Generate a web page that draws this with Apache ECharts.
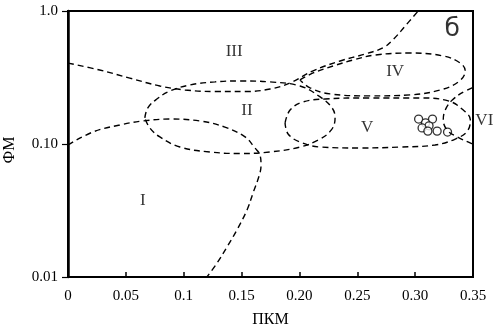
<!DOCTYPE html>
<html>
<head>
<meta charset="utf-8">
<script src="https://cdn.jsdelivr.net/npm/echarts@6/dist/echarts.min.js"></script>
<style>html,body{margin:0;padding:0;background:#fff}#c{width:499px;height:331px}</style>
</head>
<body>
<div id="c"></div>
<script>
// ---- data (x = ПКМ, y = ФМ) ----
var xTickLabels = ["0", "0.05", "0.1", "0.15", "0.20", "0.25", "0.30", "0.35"];
var yTickLabels = {"-2": "0.01", "-1": "0.10", "0": "1.0"};

var curveIII = [[0,0.406],[0.0274,0.360],[0.0534,0.313],[0.0794,0.273],[0.1010,0.255],[0.1270,0.248],[0.1530,0.248],[0.1746,0.259],[0.1919,0.288],[0.2118,0.355],[0.2352,0.421],[0.2568,0.475],[0.2724,0.530],[0.2810,0.610],[0.2914,0.771],[0.3026,1.0]];
var curveI = [[0,0.0983],[0.0214,0.123],[0.0447,0.139],[0.0647,0.149],[0.0880,0.154],[0.1140,0.149],[0.1356,0.134],[0.1530,0.113],[0.1616,0.0933],[0.1659,0.0827],[0.1668,0.0700],[0.1659,0.0605],[0.1599,0.0428],[0.1547,0.0319],[0.1460,0.0226],[0.1374,0.0168],[0.1287,0.0127],[0.1200,0.0100]];
var ellipseII = [[0.0664,0.157],[0.0690,0.187],[0.0768,0.218],[0.0880,0.250],[0.1053,0.278],[0.1270,0.293],[0.1486,0.298],[0.1746,0.293],[0.2005,0.273],[0.2179,0.226],[0.2282,0.187],[0.2308,0.157],[0.2274,0.127],[0.2161,0.107],[0.2005,0.0949],[0.1746,0.0871],[0.1486,0.0848],[0.1226,0.0871],[0.0967,0.0949],[0.0794,0.113],[0.0707,0.132],[0.0664,0.157]];
var ellipseIV = [[0.2005,0.303],[0.2118,0.342],[0.2291,0.386],[0.2464,0.428],[0.2655,0.467],[0.2957,0.483],[0.3243,0.459],[0.3390,0.406],[0.3433,0.354],[0.3373,0.293],[0.3217,0.255],[0.2957,0.234],[0.2611,0.230],[0.2265,0.238],[0.2092,0.264],[0.2005,0.303]];
var ellipseV = [[0.1876,0.144],[0.1919,0.180],[0.2031,0.207],[0.2222,0.218],[0.2611,0.222],[0.3044,0.222],[0.3286,0.211],[0.3416,0.180],[0.3477,0.152],[0.3451,0.125],[0.3347,0.109],[0.3172,0.0983],[0.2871,0.0949],[0.2525,0.0933],[0.2179,0.0949],[0.2005,0.1035],[0.1902,0.119],[0.1876,0.144]];
var ellipseVI = [[0.382,0.336],[0.3728,0.313],[0.3581,0.283],[0.3433,0.250],[0.3321,0.214],[0.3260,0.180],[0.3243,0.152],[0.3278,0.127],[0.3364,0.113],[0.3520,0.0983],[0.3676,0.0871],[0.382,0.0785]];
var samples = [[0.303,0.154],[0.315,0.154],[0.309,0.144],[0.312,0.137],[0.306,0.132],[0.311,0.125],[0.319,0.125],[0.328,0.123]];
var regionNames = ["III", "II", "IV", "V", "I", "VI"];
var regionPos = [[0.1436,0.492],[0.1546,0.177],[0.2827,0.348],[0.2585,0.134],[0.0647,0.0379],[0.3598,0.149]];
var panelLetter = "б";
var panelPos = [0.3321,0.720];

var chart = echarts.init(document.getElementById('c'), null, {renderer: 'canvas'});
var serif = "Liberation Serif";
var dash = {color: '#000', width: 1.4, type: [6, 4]};
function curve(data) {
  return {type: 'line', data: data, smooth: 0.4, showSymbol: false, clip: false,
          lineStyle: dash, silent: true, animation: false};
}
var labelData = regionNames.map(function (n, i) { return {name: n, value: regionPos[i]}; });
var option = {
  animation: false,
  grid: {left: 68, right: 26, top: 11, bottom: 54, containLabel: false, outerBoundsMode: 'none',
         show: true, borderColor: '#000', borderWidth: 2, backgroundColor: 'transparent'},
  xAxis: {
    type: 'value', min: 0, max: 0.35, interval: 0.05,
    axisLine: {show: true, onZero: false, lineStyle: {color: '#000', width: 2}},
    axisTick: {show: true, inside: true, length: 5, lineStyle: {color: '#000', width: 1.5}},
    splitLine: {show: false},
    axisLabel: {color: '#000', fontFamily: serif, fontSize: 15, margin: 12,
      formatter: function (v) { return xTickLabels[Math.round(v / 0.05)]; }},
    name: 'ПКМ', nameLocation: 'middle', nameGap: 35,
    nameTextStyle: {color: '#000', fontFamily: serif, fontSize: 16}
  },
  yAxis: {
    type: 'log', logBase: 10, min: 0.01, max: 1,
    axisLine: {show: true, onZero: false, lineStyle: {color: '#000', width: 2.5}},
    axisTick: {show: true, inside: false, length: 6, lineStyle: {color: '#000', width: 1.2}},
    minorTick: {show: false},
    splitLine: {show: false},
    axisLabel: {color: '#000', fontFamily: serif, fontSize: 15, margin: 10,
      formatter: function (v) { return yTickLabels[String(Math.round(Math.log10(v)))] || ''; }},
    name: 'ФМ', nameLocation: 'middle', nameGap: 50, nameRotate: 90,
    nameTextStyle: {color: '#000', fontFamily: serif, fontSize: 16, padding: [0, 12, 0, 0]}
  },
  series: [
    curve(curveIII), curve(curveI), curve(ellipseII), curve(ellipseIV), curve(ellipseV), curve(ellipseVI),
    {type: 'scatter', data: samples, symbol: 'circle', symbolSize: 8, clip: false,
     itemStyle: {color: '#fff', borderColor: '#000', borderWidth: 1.3}},
    {type: 'scatter', data: labelData, symbolSize: 1, clip: false, itemStyle: {color: 'rgba(0,0,0,0)'},
     label: {show: true, position: 'inside', formatter: '{b}', color: '#000', fontFamily: serif, fontSize: 17}},
    {type: 'scatter', data: [{name: panelLetter, value: panelPos}], symbolSize: 1, clip: false, itemStyle: {color: 'rgba(0,0,0,0)'},
     label: {show: true, position: 'inside', formatter: '{b}', color: '#000', fontFamily: 'DejaVu Sans', fontSize: 25}}
  ]
};
chart.setOption(option);
</script>
</body>
</html>
